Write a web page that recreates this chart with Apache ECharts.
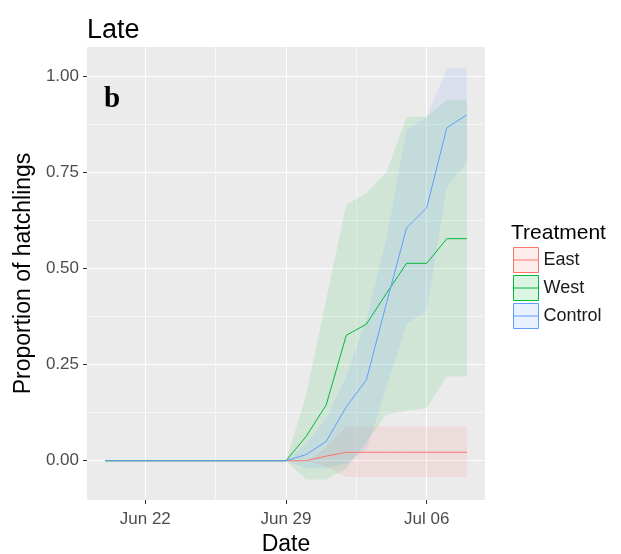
<!DOCTYPE html>
<html><head><meta charset="utf-8">
<script src="https://cdn.jsdelivr.net/npm/echarts@6/dist/echarts.min.js"></script>
<style>html,body{margin:0;padding:0;background:#fff}#c{width:621px;height:554px}</style>
</head><body><div id="c"></div>
<script>
// Day number counted in June (Jul 1 = 31)
const dayNums = [20,21,22,23,24,25,26,27,28,29,30,31,32,33,34,35,36,37,38];
const xTickValues = [22,29,36];
const xTickLabels = ['Jun 22','Jun 29','Jul 06'];
const xMinorValues = [25.5,32.5];
const yTickValues = [0,0.25,0.5,0.75,1];
const yMinorValues = [0.125,0.375,0.625,0.875];
const treatments = ['East','West','Control'];

const eastMean = [0,0,0,0,0,0,0,0,0,0,0,0.012,0.022,0.022,0.022,0.022,0.022,0.022,0.022];
const eastLow  = [0,0,0,0,0,0,0,0,0,0,0,-0.015,-0.042,-0.042,-0.042,-0.042,-0.042,-0.042,-0.042];
const eastHigh = [0,0,0,0,0,0,0,0,0,0,0,0.035,0.089,0.089,0.089,0.089,0.089,0.089,0.089];

const westMean = [0,0,0,0,0,0,0,0,0,0,0.063,0.145,0.326,0.355,0.435,0.513,0.513,0.577,0.577];
const westLow  = [0,0,0,0,0,0,0,0,0,0,-0.049,-0.049,-0.02,0.05,0.12,0.13,0.137,0.219,0.219];
const westHigh = [0,0,0,0,0,0,0,0,0,0,0.17,0.42,0.665,0.695,0.75,0.894,0.894,0.938,0.938];

const ctrlMean = [0,0,0,0,0,0,0,0,0,0,0.016,0.05,0.14,0.21,0.41,0.605,0.657,0.865,0.899];
const ctrlLow  = [0,0,0,0,0,0,0,0,0,0,-0.02,-0.02,-0.008,0.03,0.19,0.355,0.39,0.709,0.777];
const ctrlHigh = [0,0,0,0,0,0,0,0,0,0,0.045,0.11,0.22,0.366,0.58,0.86,0.894,1.02,1.02];

const colors = {East:'#F8766D', West:'#00BA38', Control:'#619CFF'};
const fills = {East:'rgba(248,118,109,0.12)', West:'rgba(0,186,56,0.11)', Control:'rgba(97,156,255,0.12)'};
const means = {East:eastMean, West:westMean, Control:ctrlMean};
const lows = {East:eastLow, West:westLow, Control:ctrlLow};
const highs = {East:eastHigh, West:westHigh, Control:ctrlHigh};

const FONT = '"Liberation Sans", Arial, sans-serif';

function bandSeries(name) {
  const data = dayNums.map((d,i)=>[d, lows[name][i], highs[name][i]]);
  return {
    type:'custom', name, data, z:2, silent:true,
    encode:{x:0, y:[1,2]},
    renderItem(params, api) {
      if (params.dataIndex !== 0) return null;
      const top = data.map(r=>api.coord([r[0], r[2]]));
      const bot = data.map(r=>api.coord([r[0], r[1]])).reverse();
      return {type:'polygon', shape:{points: top.concat(bot)}, style:{fill: fills[name], stroke:null}};
    }
  };
}
function lineSeries(name, z) {
  return {
    type:'line', name, z, symbol:'none', silent:true,
    data: dayNums.map((d,i)=>[d, means[name][i]]),
    lineStyle:{color:colors[name], width:1},
    itemStyle:{color:colors[name]}
  };
}

const chart = echarts.init(document.getElementById('c'), null, {renderer:'canvas'});
chart.setOption({
  animation:false,
  backgroundColor:'#ffffff',
  textStyle:{fontFamily:FONT},
  title:[
    {text:'Late', left:82, top:12, textStyle:{fontFamily:FONT, fontSize:27, fontWeight:'normal', color:'#000'}},
    {text:'b', left:99, top:80, textStyle:{fontFamily:'"Liberation Serif", "Times New Roman", serif', fontSize:29, fontWeight:'bold', color:'#000'}},
    {text:'Treatment', left:506, top:218, textStyle:{fontFamily:FONT, fontSize:21, fontWeight:'normal', color:'#000'}}
  ],
  legend:{
    orient:'vertical', left:508, top:242, itemWidth:25, itemHeight:25, itemGap:2,
    selectedMode:false,
    textStyle:{fontFamily:FONT, fontSize:18, color:'#1a1a1a'},
    data: treatments.map(t=>({
      name:t,
      icon:'path://M0,0L25,0L25,25L0,25Z M0,12.5L25,12.5',
      itemStyle:{color:fills[t].replace(/0\.1\d\)/,'0.14)'), borderColor:colors[t], borderWidth:1}
    }))
  },
  grid:{left:87, top:47, width:398, height:453, show:true, backgroundColor:'#EBEBEB', borderWidth:0,
        containLabel:false, outerBoundsMode:'none'},
  xAxis:[
    {type:'value', min:19.1, max:38.9,
     name:'Date', nameLocation:'middle', nameGap:33,
     nameTextStyle:{fontFamily:FONT, fontSize:23, color:'#000'},
     axisLine:{show:false, onZero:false},
     axisTick:{show:true, length:4, lineStyle:{color:'#333333', width:1}, customValues:xTickValues},
     axisLabel:{show:true, margin:11, fontFamily:FONT, fontSize:17, color:'#4D4D4D', customValues:xTickValues,
       formatter:(v)=>xTickLabels[xTickValues.indexOf(v)]},
     splitLine:{show:true, lineStyle:{color:'#ffffff', width:1.1}}
    },
    {type:'value', min:19.1, max:38.9, position:'bottom',
     axisLine:{show:false, onZero:false}, axisTick:{show:false, customValues:xMinorValues}, axisLabel:{show:false, customValues:xMinorValues},
     splitLine:{show:true, lineStyle:{color:'#ffffff', width:0.55}}
    }
  ],
  yAxis:[
    {type:'value', min:-0.102, max:1.075,
     name:'Proportion of hatchlings', nameLocation:'middle', nameGap:51,
     nameTextStyle:{fontFamily:FONT, fontSize:23, color:'#000'},
     axisLine:{show:false, onZero:false},
     axisTick:{show:true, length:4, lineStyle:{color:'#333333', width:1}, customValues:yTickValues},
     axisLabel:{show:true, margin:8, fontFamily:FONT, fontSize:17, color:'#4D4D4D', customValues:yTickValues,
       formatter:(v)=>v.toFixed(2)},
     splitLine:{show:true, lineStyle:{color:'#ffffff', width:1.1}}
    },
    {type:'value', min:-0.102, max:1.075, position:'left', offset:0,
     axisLine:{show:false, onZero:false}, axisTick:{show:false, customValues:yMinorValues}, axisLabel:{show:false, customValues:yMinorValues},
     splitLine:{show:true, lineStyle:{color:'#ffffff', width:0.55}}
    }
  ],
  series: [
    bandSeries('East'), bandSeries('West'), bandSeries('Control'),
    lineSeries('East', 5), lineSeries('West', 6), lineSeries('Control', 7)
  ]
});
</script>
</body></html>
